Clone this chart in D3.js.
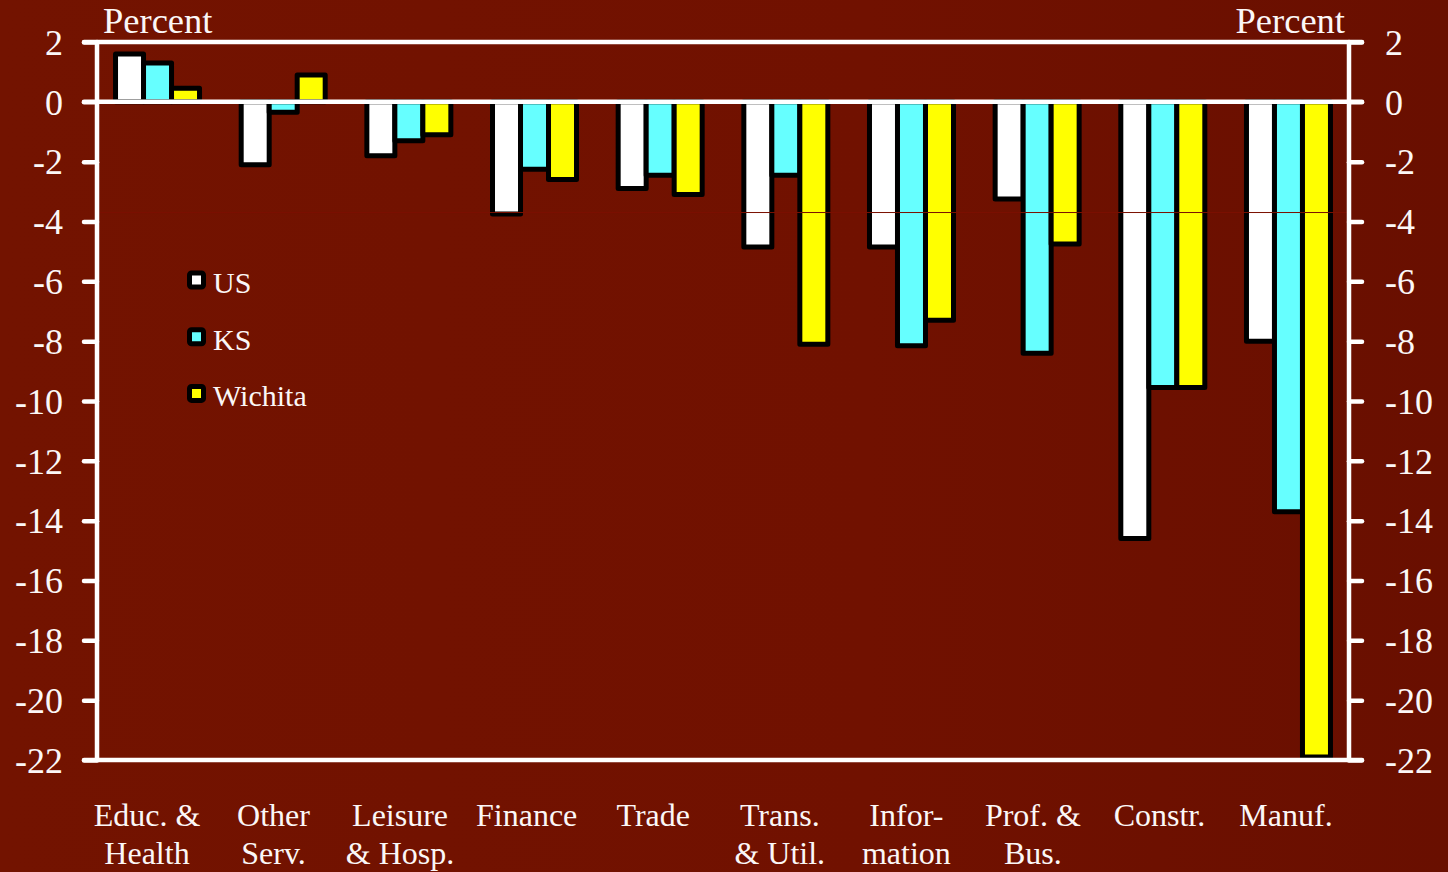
<!DOCTYPE html>
<html>
<head>
<meta charset="utf-8">
<script src="https://cdn.jsdelivr.net/npm/d3@7"></script>
<style>
  html, body { margin: 0; padding: 0; background: #701100; }
  svg { display: block; }
  text { font-family: "Liberation Serif", "Times New Roman", serif; fill: #fbf7f7; }
</style>
</head>
<body>
<svg id="chart" width="1448" height="872"></svg>
<script>
// Employment change by industry, percent
const categories = [
  ["Educ. &", "Health"], ["Other", "Serv."], ["Leisure", "& Hosp."], ["Finance"], ["Trade"],
  ["Trans.", "& Util."], ["Infor-", "mation"], ["Prof. &", "Bus."], ["Constr."], ["Manuf."]
];
const seriesNames = ["US", "KS", "Wichita"];
const usValues      = [1.6, -2.1, -1.8, -3.75, -2.9, -4.85, -4.85, -3.25, -14.6, -8.0];
const ksValues      = [1.3, -0.35, -1.3, -2.25, -2.45, -2.45, -8.15, -8.4, -9.55, -13.7];
const wichitaValues = [0.45, 0.9, -1.1, -2.6, -3.1, -8.1, -7.3, -4.75, -9.55, -21.9];
const seriesColors  = ["#ffffff", "#66ffff", "#ffff00"];
const yTicks = [2, 0, -2, -4, -6, -8, -10, -12, -14, -16, -18, -20, -22];
const refLevel = -3.7;

const seriesValues = [usValues, ksValues, wichitaValues];

const svg = d3.select("#chart");
const W = 1448, H = 872;

// background
const defs = svg.append("defs");
const grad = defs.append("linearGradient").attr("id", "bg").attr("x1", 0).attr("x2", 1).attr("y1", 0).attr("y2", 0);
grad.append("stop").attr("offset", 0).attr("stop-color", "#731300");
grad.append("stop").attr("offset", 0.6).attr("stop-color", "#711100");
grad.append("stop").attr("offset", 1).attr("stop-color", "#690f00");
svg.append("rect").attr("width", W).attr("height", H).attr("fill", "url(#bg)");

const plotL = 97, plotR = 1349, plotT = 42, plotB = 760;

const y = d3.scaleLinear().domain([2, -22]).range([plotT, plotB]);
const xGroup = d3.scaleBand().domain(d3.range(categories.length)).range([94.7, 1351.3]);
const xSeries = d3.scaleBand().domain(seriesNames).range([0, 84]);
const xLabel = d3.scaleBand().domain(d3.range(categories.length)).range([83.7, 1349.3]);

// bars
const bars = svg.append("g");
seriesNames.forEach((name, si) => {
  bars.selectAll(null)
    .data(seriesValues[si])
    .join("rect")
    .attr("x", (d, i) => xGroup(i) + xGroup.bandwidth() / 2 - 42 + xSeries(name))
    .attr("width", xSeries.bandwidth())
    .attr("y", d => y(Math.max(0, d)))
    .attr("height", d => Math.abs(y(d) - y(0)))
    .attr("fill", seriesColors[si])
    .attr("stroke", "#000")
    .attr("stroke-width", 5)
    .attr("stroke-linejoin", "round");
});

// thin reference rule showing through the bars
svg.append("line")
  .attr("x1", plotL).attr("x2", plotR)
  .attr("y1", y(refLevel)).attr("y2", y(refLevel))
  .attr("stroke", "#7a1000").attr("stroke-width", 1);

// frame, zero line and ticks
const frame = svg.append("g").attr("stroke", "#ffffff").attr("stroke-width", 4.5).attr("stroke-linecap", "round");
frame.append("line").attr("x1", 84).attr("x2", 1362).attr("y1", y(2)).attr("y2", y(2));
frame.append("line").attr("x1", 84).attr("x2", 1362).attr("y1", y(0)).attr("y2", y(0));
frame.append("line").attr("x1", 84).attr("x2", 1362).attr("y1", y(-22)).attr("y2", y(-22));
frame.append("line").attr("x1", plotL).attr("x2", plotL).attr("y1", y(2)).attr("y2", y(-22));
frame.append("line").attr("x1", plotR).attr("x2", plotR).attr("y1", y(2)).attr("y2", y(-22));

const fmt = d => String(d);
const leftAxis = d3.axisLeft(y).tickValues(yTicks).tickSize(13).tickPadding(21).tickFormat(fmt);
const rightAxis = d3.axisRight(y).tickValues(yTicks).tickSize(13).tickPadding(23).tickFormat(fmt);

function styleAxis(g) {
  g.select(".domain").remove();
  g.selectAll(".tick line").attr("stroke", "#ffffff").attr("stroke-width", 4.5).attr("stroke-linecap", "round");
  g.selectAll(".tick text")
    .attr("fill", "#fbf7f7")
    .style("font-family", '"Liberation Serif", serif')
    .style("font-size", "36px")
    .attr("dy", "0.34em");
}
svg.append("g").attr("transform", `translate(${plotL},0)`).call(leftAxis).call(styleAxis);
svg.append("g").attr("transform", `translate(${plotR},0)`).call(rightAxis).call(styleAxis)
  .selectAll(".tick text").attr("text-anchor", "start");

// unit labels
svg.append("text").attr("x", 103).attr("y", 33).style("font-size", "36.5px").text("Percent");
svg.append("text").attr("x", 1345).attr("y", 33).attr("text-anchor", "end").style("font-size", "36.5px").text("Percent");

// category labels
const catG = svg.append("g");
categories.forEach((lines, i) => {
  const t = catG.append("text")
    .attr("x", xLabel(i) + xLabel.bandwidth() / 2)
    .attr("y", 826)
    .attr("text-anchor", "middle")
    .style("font-size", "32px");
  lines.forEach((ln, k) => {
    t.append("tspan")
      .attr("x", xLabel(i) + xLabel.bandwidth() / 2)
      .attr("dy", k === 0 ? 0 : 38)
      .text(ln);
  });
});

// legend
const legend = svg.append("g").attr("transform", "translate(189.5,273)");
seriesNames.forEach((name, si) => {
  const row = legend.append("g").attr("transform", `translate(0,${si * 56.7})`);
  row.append("rect").attr("width", 14).attr("height", 14).attr("rx", 2)
    .attr("fill", seriesColors[si]).attr("stroke", "#000").attr("stroke-width", 5);
  row.append("text").attr("x", 23.5).attr("y", 20).style("font-size", "30px").text(name);
});
</script>
</body>
</html>
